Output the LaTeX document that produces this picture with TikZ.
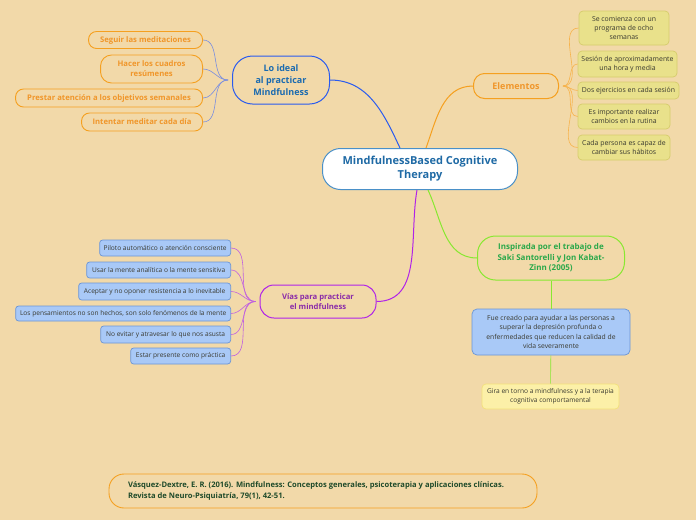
\documentclass[tikz,border=0pt]{standalone}
\usepackage{fontspec}
\setmainfont{Open Sans}
\definecolor{bg}{HTML}{F2D9A9}
\definecolor{cborder}{HTML}{4A90C8}
\definecolor{ctext}{HTML}{1F6AA5}
\definecolor{loborder}{HTML}{2A5BEF}
\definecolor{lotext}{HTML}{1A6AB0}
\definecolor{orb}{HTML}{F5A020}
\definecolor{ort}{HTML}{F0962A}
\definecolor{loline}{HTML}{7A8EE0}
\definecolor{elfill}{HTML}{E9E18B}
\definecolor{elborder}{HTML}{D6CC6C}
\definecolor{darktext}{HTML}{3A3A30}
\definecolor{grb}{HTML}{88E830}
\definecolor{grt}{HTML}{2AA84A}
\definecolor{blfill}{HTML}{A9C9F7}
\definecolor{blborder}{HTML}{6B95D6}
\definecolor{yefill}{HTML}{FCF0A8}
\definecolor{yeborder}{HTML}{F3E17A}
\definecolor{pub}{HTML}{B023E8}
\definecolor{put}{HTML}{8A2BA8}
\definecolor{puline}{HTML}{C060E0}
\definecolor{reftext}{HTML}{1E4A2A}
\tikzset{
  pill/.style={draw, rounded corners=14pt, line width=1pt, align=center, inner sep=2pt},
  orleaf/.style={draw=orb, line width=0.9pt, rounded corners=8pt, text=ort, font=\fontsize{7.7}{10}\selectfont\bfseries, align=center, anchor=east, inner sep=0pt},
  elleaf/.style={draw=elborder, fill=elfill, line width=0.7pt, rounded corners=4pt, text=darktext, font=\fontsize{6.9}{9}\selectfont, align=center, inner sep=0pt},
  blleaf/.style={draw=blborder, fill=blfill, line width=0.7pt, rounded corners=3pt, text=darktext, font=\fontsize{6.6}{8.5}\selectfont, align=center, anchor=east, inner sep=0pt},
  conn/.style={line width=0.6pt},
}
\begin{document}
\begin{tikzpicture}[x=1pt,y=-1pt]
\fill[bg] (0,0) rectangle (696,520);
\useasboundingbox (0,0) rectangle (696,520);

% central
\node[pill, draw=cborder, fill=white, text=ctext, minimum width=195pt, minimum height=41pt, rounded corners=18pt, font=\fontsize{11}{14}\selectfont\bfseries] (c) at (420,169) {MindfulnessBased Cognitive\\Therapy};

% Lo ideal
\node[pill, draw=loborder, text=lotext, minimum width=97pt, minimum height=48pt, rounded corners=20pt, font=\fontsize{9}{12}\selectfont\bfseries] (lo) at (281,80) {Lo ideal\\al practicar\\Mindfulness};

\node[orleaf, minimum width=114pt, minimum height=17pt] (o1) at (203,40) {Seguir las meditaciones};
\node[orleaf, minimum width=102pt, minimum height=28pt, rounded corners=11pt] (o2) at (203,69) {Hacer los cuadros\\resúmenes};
\node[orleaf, minimum width=187pt, minimum height=18pt] (o3) at (203,98) {Prestar atención a los objetivos semanales};
\node[orleaf, minimum width=121pt, minimum height=18pt] (o4) at (203,122) {Intentar meditar cada día};
\foreach \n in {o1,o2,o3,o4}
  \draw[conn, loline] (\n.east) to[out=0,in=180] ([xshift=-4pt]lo.west);

% Elementos
\node[pill, draw=orb, text=ort, minimum width=85pt, minimum height=25pt, rounded corners=11pt, font=\fontsize{9}{12}\selectfont\bfseries] (el) at (516,86) {Elementos};
\node[elleaf, minimum width=90pt, minimum height=34pt] (e1) at (624,28) {Se comienza con un\\programa de ocho\\semanas};
\node[elleaf, minimum width=99pt, minimum height=26pt] (e2) at (627.5,64) {Sesión de aproximadamente\\una hora y media};
\node[elleaf, minimum width=101pt, minimum height=17pt] (e3) at (628.5,90.5) {Dos ejercicios en cada sesión};
\node[elleaf, minimum width=92pt, minimum height=25pt] (e4) at (624,116.5) {Es importante realizar\\cambios en la rutina};
\node[elleaf, minimum width=92pt, minimum height=25pt] (e5) at (624,147.5) {Cada persona es capaz de\\cambiar sus hábitos};
\foreach \n in {e1,e2,e3,e4,e5}
  \draw[conn, orb!80] ([xshift=4pt]el.east) to[out=0,in=180] (\n.west);

% Inspirada
\node[pill, draw=grb, text=grt, minimum width=147pt, minimum height=44pt, rounded corners=18pt, font=\fontsize{8}{10.5}\selectfont\bfseries] (in1) at (551,258) {Inspirada por el trabajo de\\Saki Santorelli y Jon Kabat-\\Zinn (2005)};
\node[draw=blborder, fill=blfill, line width=0.7pt, rounded corners=5pt, text=darktext, font=\fontsize{6.8}{9.5}\selectfont, align=center, minimum width=158pt, minimum height=46pt, inner sep=0pt] (fue) at (551,332) {Fue creado para ayudar a las personas a\\superar la depresión profunda o\\enfermedades que reducen la calidad de\\vida severamente};
\node[draw=yeborder, fill=yefill, line width=0.7pt, rounded corners=4pt, text=darktext, font=\fontsize{6.6}{9}\selectfont, align=center, minimum width=137pt, minimum height=25pt, inner sep=0pt] (gira) at (550.5,396.5) {Gira en torno a mindfulness y a la terapia\\cognitiva comportamental};
\draw[conn, grb] (in1) -- (fue);
\draw[conn, grb] (fue) -- (gira);

% Vias
\node[pill, draw=pub, text=put, minimum width=116pt, minimum height=33pt, rounded corners=14pt, font=\fontsize{7.7}{10}\selectfont\bfseries] (vi) at (318,301.5) {Vías para practicar\\el mindfulness};
\node[blleaf, minimum width=131pt, minimum height=16pt] (v1) at (231,248) {Piloto automático o atención consciente};
\node[blleaf, minimum width=144pt, minimum height=16pt] (v2) at (231,270) {Usar la mente analítica o la mente sensitiva};
\node[blleaf, minimum width=152pt, minimum height=17pt] (v3) at (231,291.5) {Aceptar y no oponer resistencia a lo inevitable};
\node[blleaf, minimum width=215pt, minimum height=15pt] (v4) at (231,313.5) {Los pensamientos no son hechos, son solo fenómenos de la mente};
\node[blleaf, minimum width=130pt, minimum height=17pt] (v5) at (231,334.5) {No evitar y atravesar lo que nos asusta};
\node[blleaf, minimum width=100pt, minimum height=16pt] (v6) at (231,356) {Estar presente como práctica};
\foreach \n in {v1,v2,v3,v4,v5,v6}
  \draw[conn, puline] (\n.east) to[out=0,in=180] ([xshift=-4pt]vi.west);

% main connectors
\draw[line width=1pt, loborder] (lo.east) to[out=0,in=115] ([xshift=-20pt]c.north);
\draw[line width=1pt, orb] ([xshift=6pt]c.north) to[out=70,in=180] (el.west);
\draw[line width=1pt, grb] ([xshift=8pt]c.south) to[out=-65,in=180] (in1.west);
\draw[line width=1pt, pub] ([xshift=-3pt]c.south) to[out=-100,in=0] (vi.east);

% reference
\node[draw=orb, line width=0.9pt, rounded corners=15pt, minimum width=428pt, minimum height=34pt, text=reftext, font=\fontsize{7.6}{11.5}\selectfont\bfseries, align=left, inner sep=0pt] (ref) at (323,491) {\makebox[390pt][l]{Vásquez-Dextre, E. R. (2016). Mindfulness: Conceptos generales, psicoterapia y aplicaciones clínicas.}\\Revista de Neuro-Psiquiatría, 79(1), 42-51.};
\end{tikzpicture}
\end{document}
